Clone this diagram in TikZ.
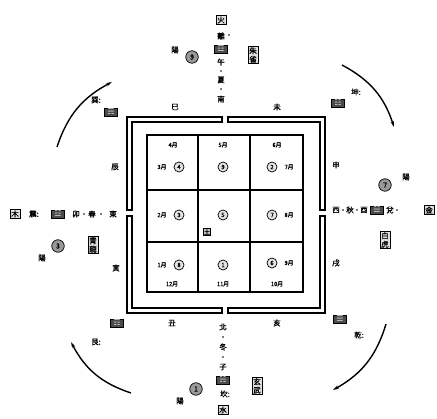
\documentclass[tikz,border=0pt]{standalone}
\usepackage{fontspec}
\setmainfont{Noto Sans CJK TC}[FakeBold=1.2]
\newfontfamily\trifont{DejaVu Sans}
\usetikzlibrary{arrows.meta}
\tikzset{
  ch/.style={font=\fontsize{7.5}{7.5}\selectfont, inner sep=0pt},
  mon/.style={font=\fontsize{5.8}{6}\selectfont, inner sep=0pt},
  bch/.style={draw, line width=0.9pt, fill=black!12, font=\fontsize{7.5}{7.5}\selectfont, inner sep=1.2pt},
  vbox/.style={draw, line width=0.9pt, fill=black!12, font=\fontsize{7.5}{8.5}\selectfont, inner sep=1.2pt, align=center},
  tri/.style={draw, line width=0.6pt, fill=black!70, text=white!85!black, font=\trifont\fontsize{8}{8}\selectfont, inner sep=0pt, minimum width=13pt, minimum height=8pt},
  num/.style={circle, draw, line width=0.7pt, fill=black!10, inner sep=0pt, minimum size=10pt, font=\fontsize{6}{6}\selectfont},
  bignum/.style={circle, draw, line width=0.7pt, fill=black!40, inner sep=0pt, minimum size=12.5pt, font=\fontsize{7}{7}\selectfont},
  dotn/.style={circle, fill=black, inner sep=0pt, minimum size=1.8pt},
  band/.style={draw=black, line width=1.1pt, line join=miter},
  gridline/.style={line width=1.4pt},
  rot/.style={line width=1.4pt, -{Stealth[length=6pt,width=3.5pt]}, bend left=22}
}
\begin{document}
\begin{tikzpicture}[x=1pt,y=-1pt]
\useasboundingbox (0,0) rectangle (437,419);
\fill[white] (0,0) rectangle (437,419);

% outer double frame with four gates
\draw[band] (222,117) -- (127,117) -- (127,210) -- (132,210) -- (132,122) -- (222,122) -- cycle;
\draw[band] (228,117) -- (325,117) -- (325,210) -- (320,210) -- (320,122) -- (228,122) -- cycle;
\draw[band] (325,216) -- (325,313) -- (228,313) -- (228,308) -- (320,308) -- (320,216) -- cycle;
\draw[band] (127,216) -- (127,313) -- (222,313) -- (222,308) -- (132,308) -- (132,216) -- cycle;

% nine palaces grid
\draw[gridline] (147,135) rectangle (303,292);
\draw[gridline] (198,135) -- (198,292);
\draw[gridline] (250,135) -- (250,292);
\draw[gridline] (147,190) -- (303,190);
\draw[gridline] (147,242) -- (303,242);

% grid contents
\node[mon] (m4) at (173,145) {4月};
\node[mon] (m5) at (223,145) {5月};
\node[mon] (m6) at (277,145) {6月};
\node[mon] (m3) at (162,167) {3月};
\node[num] (n4) at (179,167) {4};
\node[num] (n9) at (223,167) {9};
\node[num] (n2) at (272,167) {2};
\node[mon] (m7) at (289,167) {7月};
\node[mon] (m2) at (162,215) {2月};
\node[num] (n3) at (179,215) {3};
\node[num] (n5) at (223,215) {5};
\node[num] (n7) at (272,215) {7};
\node[mon] (m8) at (289,215) {8月};
\node[mon] (m1) at (162,265) {1月};
\node[num] (n8) at (179,265) {8};
\node[num] (n1) at (223,265) {1};
\node[num] (n6) at (272,263) {6};
\node[mon] (m9) at (289,263) {9月};
\node[mon] (m12) at (172,284) {12月};
\node[mon] (m11) at (223,284) {11月};
\node[mon] (m10) at (277,284) {10月};
\node[draw, line width=0.7pt, fill=black!25, font=\fontsize{6}{6}\selectfont, inner sep=0.8pt] (mid) at (207,232) {土};

% branches around the frame
\node[ch] (si) at (175,107) {巳};
\node[ch] (wei) at (277,107) {未};
\node[ch] (shen) at (336,165) {申};
\node[ch] (xu) at (336,263) {戌};
\node[ch] (chou) at (172,323) {丑};
\node[ch] (hai) at (277,323) {亥};
\node[ch] (chen) at (115,167) {辰};
\node[ch] (yin) at (116,268) {寅};

% south (top)
\node[bch] (fire) at (221,20) {火};
\node[ch] (li) at (221,36) {離};
\node[dotn] (lid) at (229,35) {};
\node[tri] (trili) at (221,49) {☲};
\node[ch] (wu) at (221,62) {午};
\node[dotn] (d1) at (221,71) {};
\node[ch] (xia) at (221,80) {夏};
\node[dotn] (d2) at (221,89) {};
\node[ch] (nan) at (221,99) {南};
\node[vbox] (zhuque) at (253,55) {朱\\雀};
\node[bignum] (c9) at (192,57) {9};
\node[ch] (ys) at (175,50) {陽};

% north (bottom)
\node[ch] (bei) at (223,327) {北};
\node[dotn] (d3) at (223,337) {};
\node[ch] (dong) at (223,347) {冬};
\node[dotn] (d4) at (223,357) {};
\node[ch] (zi) at (223,367) {子};
\node[tri] (trikan) at (223,380) {☵};
\node[ch] (kan) at (225,394) {坎:};
\node[bch] (water) at (223,410) {水};
\node[vbox] (xuanwu) at (257,386) {玄\\武};
\node[bignum] (c1) at (196,389) {1};
\node[ch] (yn) at (180,401) {陽};

% east (left)
\node[bch] (wood) at (15,214) {木};
\node[ch] (zhen) at (34,214) {震:};
\node[tri] (trizhen) at (58,214) {☳};
\node[ch] (mao) at (76,214) {卯};
\node[dotn] (d5) at (84,214) {};
\node[ch] (chun) at (92,214) {春};
\node[dotn] (d6) at (101,214) {};
\node[ch] (dongf) at (113,214) {東};
\node[vbox] (qinglong) at (93,245) {青\\龍};
\node[bignum] (c3) at (58,246) {3};
\node[ch] (ye) at (42,258) {陽};

% west (right)
\node[ch] (xi) at (336,210) {西};
\node[dotn] (d7) at (343,210) {};
\node[ch] (qiu) at (350,210) {秋};
\node[dotn] (d8) at (357,210) {};
\node[ch] (you) at (364,210) {酉};
\node[tri] (tridui) at (377,210) {☱};
\node[ch] (dui) at (390,210) {兌};
\node[dotn] (d9) at (397,210) {};
\node[bch] (metal) at (429,210) {金};
\node[vbox] (baihu) at (385,240) {白\\虎};
\node[bignum] (c7) at (385,185) {7};
\node[ch] (yw) at (406,177) {陽};

% corners
\node[tri] (trixun) at (111,112) {☴};
\node[ch] (xun) at (96,100) {巽:};
\node[tri] (trikun) at (338,103) {☷};
\node[ch] (kun) at (356,92) {坤:};
\node[tri] (trigen) at (117,323) {☶};
\node[ch] (gen) at (96,342) {艮:};
\node[tri] (triqian) at (340,319) {☰};
\node[ch] (qian) at (359,335) {乾:};

% rotation arcs
\coordinate (a1) at (57,147);
\coordinate (a2) at (112,82);
\coordinate (b1) at (342,65);
\coordinate (b2) at (394,127);
\coordinate (c1a) at (386,324);
\coordinate (c2a) at (333,390);
\coordinate (e1) at (131,393);
\coordinate (e2) at (71,342);
\draw[rot] (a1) to (a2);
\draw[rot] (b1) to (b2);
\draw[rot] (c1a) to (c2a);
\draw[rot] (e1) to (e2);
\end{tikzpicture}
\end{document}
